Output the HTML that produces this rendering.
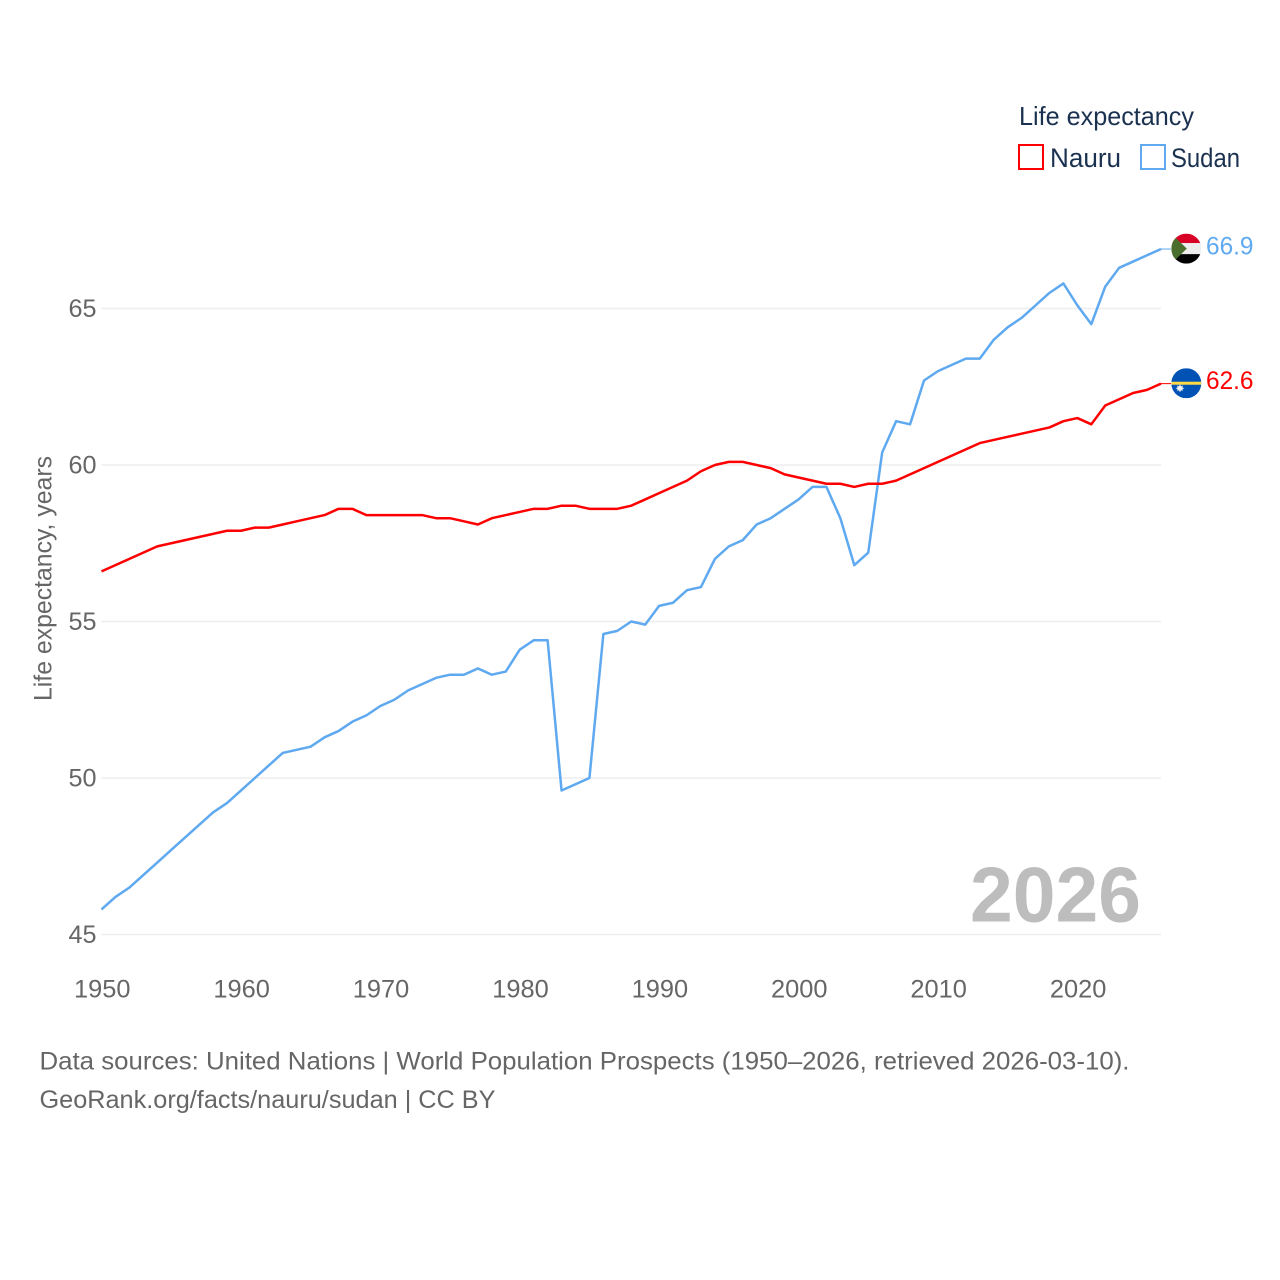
<!DOCTYPE html>
<html lang="en">
<head>
<meta charset="utf-8">
<title>Life expectancy: Nauru and Sudan</title>
<style>
html,body{margin:0;padding:0;background:#fff;}
svg{display:block;font-family:"Liberation Sans",sans-serif;}
</style>
</head>
<body>
<svg id="chart" xmlns="http://www.w3.org/2000/svg" width="1280" height="1280" viewBox="0 0 1280 1280">
  <defs>
    <clipPath id="flag-clip-sudan"><circle cx="0" cy="0" r="15"/></clipPath>
    <clipPath id="flag-clip-nauru"><circle cx="0" cy="0" r="15"/></clipPath>
  </defs>
  <rect x="0" y="0" width="1280" height="1280" fill="#ffffff"/>
  <g id="grid"></g>
  <g id="y-ticks"></g>
  <g id="x-ticks"></g>
  <text transform="translate(51.5,701) rotate(-90)" font-size="25" fill="#666666" textLength="245" lengthAdjust="spacingAndGlyphs">Life expectancy, years</text>
  <text x="970" y="921.5" font-size="78" font-weight="700" fill="#bdbdbd" textLength="171" lengthAdjust="spacingAndGlyphs">2026</text>
  <g id="series"></g>
  <g id="flag-sudan">
    <g clip-path="url(#flag-clip-sudan)">
      <rect x="-15" y="-15" width="30" height="9.5" fill="#d80027"/>
      <rect x="-15" y="-5.5" width="30" height="11" fill="#eeeeee"/>
      <rect x="-15" y="5.5" width="30" height="9.5" fill="#000000"/>
      <polygon points="-15,-15 0.5,0 -15,15" fill="#496e2d"/>
    </g>
  </g>
  <g id="flag-nauru">
    <g clip-path="url(#flag-clip-nauru)">
      <rect x="-15" y="-15" width="30" height="30" fill="#0052b4"/>
      <rect x="-15" y="-1.5" width="30" height="3" fill="#ffda44"/>
      <polygon points="-6.3,0.9 -5.3,3.1 -3.4,2.1 -3.9,4.2 -1.8,5 -3.9,5.8 -3.4,7.9 -5.3,6.9 -6.3,9.1 -7.3,6.9 -9.2,7.9 -8.7,5.8 -10.8,5 -8.7,4.2 -9.2,2.1 -7.3,3.1" fill="#f0f0f0"/>
    </g>
  </g>
  <g id="value-labels"></g>
  <g>
    <text x="1019" y="125" font-size="26" fill="#1a3150" textLength="175" lengthAdjust="spacingAndGlyphs">Life expectancy</text>
    <g>
      <rect x="1019" y="145" width="24" height="24" fill="none" stroke="#ff0000" stroke-width="2"/>
      <text x="1050" y="167" font-size="27" fill="#1a3150" textLength="71" lengthAdjust="spacingAndGlyphs">Nauru</text>
    </g>
    <g>
      <rect x="1141" y="145" width="24" height="24" fill="none" stroke="#5ea9f0" stroke-width="2"/>
      <text x="1171" y="167" font-size="27" fill="#1a3150" textLength="69" lengthAdjust="spacingAndGlyphs">Sudan</text>
    </g>
  </g>
  <g>
    <text x="39.5" y="1069.5" font-size="25" fill="#666666" textLength="1090" lengthAdjust="spacingAndGlyphs">Data sources: United Nations | World Population Prospects (1950–2026, retrieved 2026-03-10).</text>
    <text x="39.5" y="1108" font-size="25" fill="#666666" textLength="456" lengthAdjust="spacingAndGlyphs">GeoRank.org/facts/nauru/sudan | CC BY</text>
  </g>
</svg>
<script>
const years = [1950,1951,1952,1953,1954,1955,1956,1957,1958,1959,1960,1961,1962,1963,1964,1965,1966,1967,1968,1969,1970,1971,1972,1973,1974,1975,1976,1977,1978,1979,1980,1981,1982,1983,1984,1985,1986,1987,1988,1989,1990,1991,1992,1993,1994,1995,1996,1997,1998,1999,2000,2001,2002,2003,2004,2005,2006,2007,2008,2009,2010,2011,2012,2013,2014,2015,2016,2017,2018,2019,2020,2021,2022,2023,2024,2025,2026];
const sudanValues = [45.8,46.2,46.5,46.9,47.3,47.7,48.1,48.5,48.9,49.2,49.6,50.0,50.4,50.8,50.9,51.0,51.3,51.5,51.8,52.0,52.3,52.5,52.8,53.0,53.2,53.3,53.3,53.5,53.3,53.4,54.1,54.4,54.4,49.6,49.8,50.0,54.6,54.7,55.0,54.9,55.5,55.6,56.0,56.1,57.0,57.4,57.6,58.1,58.3,58.6,58.9,59.3,59.3,58.3,56.8,57.2,60.4,61.4,61.3,62.7,63.0,63.2,63.4,63.4,64.0,64.4,64.7,65.1,65.5,65.8,65.1,64.5,65.7,66.3,66.5,66.7,66.9];
const nauruValues = [56.6,56.8,57.0,57.2,57.4,57.5,57.6,57.7,57.8,57.9,57.9,58.0,58.0,58.1,58.2,58.3,58.4,58.6,58.6,58.4,58.4,58.4,58.4,58.4,58.3,58.3,58.2,58.1,58.3,58.4,58.5,58.6,58.6,58.7,58.7,58.6,58.6,58.6,58.7,58.9,59.1,59.3,59.5,59.8,60.0,60.1,60.1,60.0,59.9,59.7,59.6,59.5,59.4,59.4,59.3,59.4,59.4,59.5,59.7,59.9,60.1,60.3,60.5,60.7,60.8,60.9,61.0,61.1,61.2,61.4,61.5,61.3,61.9,62.1,62.3,62.4,62.6];
const yTickValues = [45,50,55,60,65];
const xTickValues = [1950,1960,1970,1980,1990,2000,2010,2020];

const NS = 'http://www.w3.org/2000/svg';
const xScale = function (year) { return 101.5 + (year - 1950) * (1161 - 101.5) / 76; };
const yScale = function (value) { return 934.5 - (value - 45) * 31.3; };

const gridGroup = document.getElementById('grid');
const yTickGroup = document.getElementById('y-ticks');
const xTickGroup = document.getElementById('x-ticks');
const seriesGroup = document.getElementById('series');
const labelGroup = document.getElementById('value-labels');

yTickValues.forEach(function (tick) {
  const line = document.createElementNS(NS, 'line');
  
  
  line.setAttribute('x1', xScale(1950));
  line.setAttribute('x2', xScale(2026));
  line.setAttribute('y1', yScale(tick));
  line.setAttribute('y2', yScale(tick));
  line.setAttribute('stroke', '#eeeeee');
  line.setAttribute('stroke-width', '1.6');
  gridGroup.appendChild(line);

  const label = document.createElementNS(NS, 'text');
  
  
  label.setAttribute('x', 68.5);
  label.setAttribute('y', yScale(tick) + 8.5);
  label.setAttribute('font-size', '25');
  label.setAttribute('fill', '#666666');
  label.setAttribute('textLength', '28');
  label.setAttribute('lengthAdjust', 'spacingAndGlyphs');
  label.textContent = tick;
  yTickGroup.appendChild(label);
});

xTickValues.forEach(function (tick) {
  const label = document.createElementNS(NS, 'text');
  
  
  label.setAttribute('x', xScale(tick) - 27.5);
  label.setAttribute('y', 997.5);
  label.setAttribute('font-size', '25');
  label.setAttribute('fill', '#666666');
  label.setAttribute('textLength', '56.5');
  label.setAttribute('lengthAdjust', 'spacingAndGlyphs');
  label.textContent = tick;
  xTickGroup.appendChild(label);
});

function drawSeries(name, values, color, flagId) {
  const points = values.map(function (v, i) {
    return xScale(years[i]).toFixed(2) + ',' + yScale(v).toFixed(2);
  }).join(' ');
  const poly = document.createElementNS(NS, 'polyline');
  
  
  poly.setAttribute('points', points);
  poly.setAttribute('fill', 'none');
  poly.setAttribute('stroke', color);
  poly.setAttribute('stroke-width', '2.5');
  poly.setAttribute('stroke-linejoin', 'round');
  seriesGroup.appendChild(poly);

  const last = values[values.length - 1];
  const lastX = xScale(years[years.length - 1]);
  const lastY = yScale(last);

  const connector = document.createElementNS(NS, 'line');
  
  
  connector.setAttribute('x1', lastX);
  connector.setAttribute('x2', lastX + 10);
  connector.setAttribute('y1', lastY);
  connector.setAttribute('y2', lastY);
  connector.setAttribute('stroke', color);
  connector.setAttribute('stroke-width', '1');
  seriesGroup.appendChild(connector);

  document.getElementById(flagId).setAttribute('transform', 'translate(1186.3,' + (lastY - 0.4) + ')');

  const label = document.createElementNS(NS, 'text');
  
  
  label.setAttribute('x', 1206);
  label.setAttribute('y', lastY + 5.5);
  label.setAttribute('font-size', '25');
  label.setAttribute('fill', color);
  label.setAttribute('textLength', '47.5');
  label.setAttribute('lengthAdjust', 'spacingAndGlyphs');
  label.textContent = last.toFixed(1);
  labelGroup.appendChild(label);
}

drawSeries('sudan', sudanValues, '#5ea9f0', 'flag-sudan');
drawSeries('nauru', nauruValues, '#ff0000', 'flag-nauru');
</script>
</body>
</html>
